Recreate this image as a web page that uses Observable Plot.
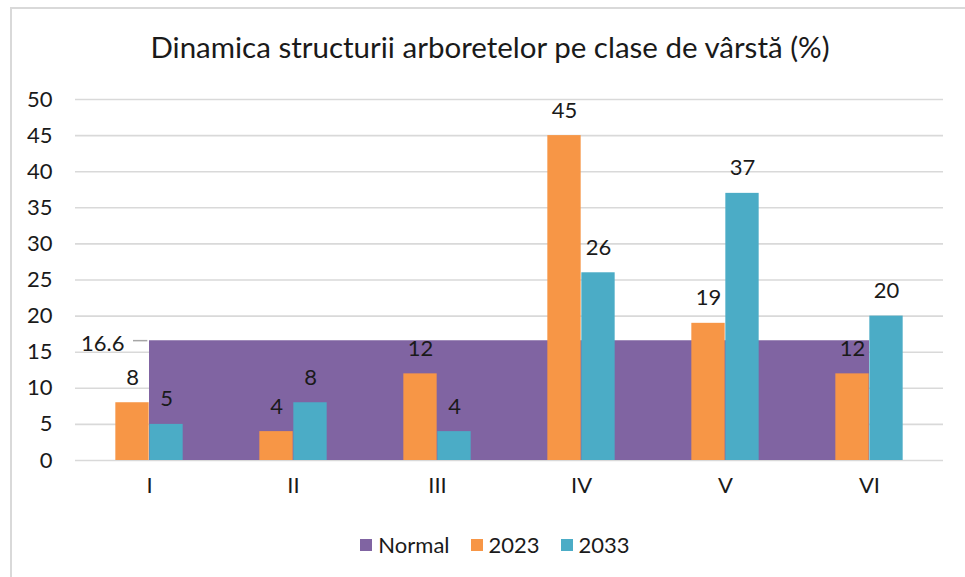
<!DOCTYPE html>
<html>
<head>
<meta charset="utf-8">
<script src="https://cdn.jsdelivr.net/npm/d3@7"></script>
<script src="https://cdn.jsdelivr.net/npm/@observablehq/plot@0.6"></script>
<style>
  html, body { margin: 0; padding: 0; background: #fff; }
  #wrap { position: relative; width: 965px; height: 577px; overflow: hidden; background: #fff; font-family: Lato, "Open Sans", sans-serif; color: #1a1a1a; }
  #frame { position: absolute; left: 10px; top: 7px; width: 980px; height: 620px; border-left: 2px solid #d9d9d9; border-top: 2px solid #d9d9d9; }
  #title { position: absolute; left: 10px; width: 960px; top: 30px; text-align: center; font-size: 29.5px; line-height: 34px; }
  #chart { position: absolute; left: 0; top: 80px; }
  #legend { position: absolute; left: 15px; width: 960px; top: 531px; display: flex; justify-content: center; align-items: center; font-size: 22px; line-height: 28px; }
  .item { display: flex; align-items: center; margin: 0 10.5px; }
  .sw { width: 12px; height: 12px; margin-right: 6px; }
</style>
</head>
<body>
<div id="wrap">
  <div id="frame"></div>
  <div id="title">Dinamica structurii arboretelor pe clase de vârstă (%)</div>
  <div id="chart"></div>
  <div id="legend"></div>
</div>
<script>
const categories = ["I", "II", "III", "IV", "V", "VI"];
const values2023 = [8, 4, 12, 45, 19, 12];
const values2033 = [5, 8, 4, 26, 37, 20];
const normalValues = [16.6, 16.6, 16.6, 16.6, 16.6, 16.6];
const yTicks = [0, 5, 10, 15, 20, 25, 30, 35, 40, 45, 50];
const seriesNames = ["Normal", "2023", "2033"];
const seriesColors = ["#8064A2", "#F79646", "#4BACC6"];

const rows = categories.map((c, i) => ({
  category: c, v2023: values2023[i], v2033: values2033[i], normal: normalValues[i]
}));

const W = 965, H = 430, ML = 75, MR = 22, MT = 19, MB = 50;
const bw = (W - ML - MR) / categories.length;
const barW = 34;
const FS = 22;

const chart = Plot.plot({
  width: W, height: H,
  marginLeft: ML, marginRight: MR, marginTop: MT, marginBottom: MB,
  style: { fontSize: FS + "px", fontFamily: "Lato, 'Open Sans', sans-serif", color: "#1a1a1a", background: "transparent" },
  x: { domain: categories, padding: 0, tickSize: 0, tickPadding: 17, label: null },
  y: { domain: [0, 50], ticks: yTicks, tickSize: 0, tickPadding: 23, label: null },
  marks: [
    Plot.ruleY(yTicks, { stroke: "#d9d9d9", strokeWidth: 1.6 }),
    Plot.areaY(rows, { x: "category", y: "normal", fill: seriesColors[0], curve: "linear" }),
    Plot.barY(rows, { x: "category", y: "v2023", fill: seriesColors[1], insetLeft: bw / 2 - barW, insetRight: bw / 2 }),
    Plot.barY(rows, { x: "category", y: "v2033", fill: seriesColors[2], insetLeft: bw / 2, insetRight: bw / 2 - barW }),
    Plot.text(rows, { x: "category", y: "v2023", text: d => String(d.v2023), dx: -barW / 2, dy: -25, fill: "#1a1a1a", fontSize: FS }),
    Plot.text(rows, { x: "category", y: "v2033", text: d => String(d.v2033), dx: barW / 2, dy: -25, fill: "#1a1a1a", fontSize: FS }),
    Plot.tickY(rows.slice(0, 1), { x: "category", y: "normal", stroke: "#a6a6a6", strokeWidth: 1.5, insetLeft: 56, insetRight: bw - 71 }),
    Plot.text(rows.slice(0, 1), { x: "category", y: "normal", text: d => String(d.normal), textAnchor: "end", dx: -25, dy: 3, fill: "#1a1a1a", fontSize: FS })
  ]
});
document.getElementById("chart").appendChild(chart);

const legend = document.getElementById("legend");
seriesNames.forEach((name, i) => {
  const item = document.createElement("div");
  item.className = "item";
  const sw = document.createElement("div");
  sw.className = "sw";
  sw.style.background = seriesColors[i];
  const label = document.createElement("span");
  label.textContent = name;
  item.appendChild(sw);
  item.appendChild(label);
  legend.appendChild(item);
});
</script>
</body>
</html>
